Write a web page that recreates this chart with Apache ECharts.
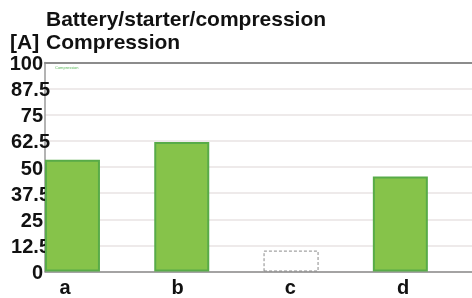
<!DOCTYPE html>
<html><head><meta charset="utf-8">
<script src="https://cdn.jsdelivr.net/npm/echarts@6/dist/echarts.min.js"></script>
<style>html,body{margin:0;padding:0;background:#fff}#c{width:472px;height:298px}</style>
</head><body><div id="c"></div>
<script>
const categories = ['a', 'b', 'c', 'd'];
const values = [53.5, 62, 10, 45.5];
const measured = [true, true, false, true];
const yTicks = [0, 12.5, 25, 37.5, 50, 62.5, 75, 87.5, 100];
const titleLine1 = 'Battery/starter/compression';
const titleLine2 = 'Compression';
const unitLabel = '[A]';
const legendText = 'Compression';

const chart = echarts.init(document.getElementById('c'), null, {renderer: 'canvas'});
const FONT = 'Liberation Sans, Arial, sans-serif';
const gridTop = 62.5, gridBottom = 298 - 271.5;

const barData = values.map((v, i) => measured[i] ? {
  value: v,
  itemStyle: {color: '#86c34a', borderColor: '#58ab48', borderWidth: 2}
} : {
  value: v,
  itemStyle: {color: 'rgba(255,255,255,0)', borderColor: '#8a8a8a', borderWidth: 1, borderType: [3, 2]}
});

chart.setOption({
  animation: false,
  backgroundColor: '#fff',
  grid: [
    {left: 45, right: 0, top: gridTop, bottom: gridBottom},
    {left: 17.8, right: 17, top: gridTop, bottom: gridBottom},
    {left: 8.7, right: 12.6, top: gridTop, bottom: gridBottom}
  ],
  xAxis: [
    {gridIndex: 0, type: 'value', min: 0, max: 1, show: true,
     axisLine: {show: true, lineStyle: {color: '#8c8c8c', width: 1.5}},
     axisTick: {show: false}, axisLabel: {show: false}, splitLine: {show: false}},
    {gridIndex: 0, type: 'value', position: 'top', min: 0, max: 1,
     axisLine: {show: true, lineStyle: {color: '#8c8c8c', width: 2}},
     axisTick: {show: false}, axisLabel: {show: false}, splitLine: {show: false}},
    {gridIndex: 1, type: 'category', data: categories,
     axisLine: {show: false}, axisTick: {show: false}, splitLine: {show: false},
     axisLabel: {show: false}},
    {gridIndex: 2, type: 'category', data: categories,
     axisLine: {show: false}, axisTick: {show: false}, splitLine: {show: false},
     axisLabel: {fontFamily: FONT, fontWeight: 'bold', fontSize: 20, color: '#111', margin: 9}}
  ],
  yAxis: [
    {gridIndex: 0, type: 'value', min: 0, max: 100, interval: 12.5,
     axisLine: {show: true, lineStyle: {color: '#9a9a9a', width: 1.5}},
     axisTick: {show: false},
     splitLine: {show: true, lineStyle: {color: '#e9e3e3', width: 1.5}},
     axisLabel: {
       margin: -5,
       formatter: v => yTicks.indexOf(v) >= 0 ? (Number.isInteger(v) ? '{i|' + v + '}' : '{d|' + v + '}') : '',
       rich: {
         i: {fontFamily: FONT, fontWeight: 'bold', fontSize: 20, color: '#111', padding: [4, 7, 0, 0]},
         d: {fontFamily: FONT, fontWeight: 'bold', fontSize: 20, color: '#111', padding: [4, 0, 0, 0]}
       }
     }},
    {gridIndex: 1, type: 'value', min: 0, max: 100, interval: 12.5, show: false,
     splitLine: {show: false}},
    {gridIndex: 2, type: 'value', min: 0, max: 100, interval: 12.5, show: false,
     splitLine: {show: false}}
  ],
  series: [{
    type: 'bar', xAxisIndex: 2, yAxisIndex: 1, data: barData, barWidth: 55, z: 3
  }],
  graphic: [
    {type: 'text', left: 46, top: 10, style: {text: titleLine1, font: 'bold 21px ' + FONT, fill: '#111'}},
    {type: 'text', left: 46, top: 33, style: {text: titleLine2, font: 'bold 21px ' + FONT, fill: '#111'}},
    {type: 'text', left: 10, top: 33, style: {text: unitLabel, font: 'bold 21px ' + FONT, fill: '#111'}},
    {type: 'text', left: 55, top: 66, style: {text: legendText, font: '4px ' + FONT, fill: '#5cb85c'}}
  ]
});
</script></body></html>
